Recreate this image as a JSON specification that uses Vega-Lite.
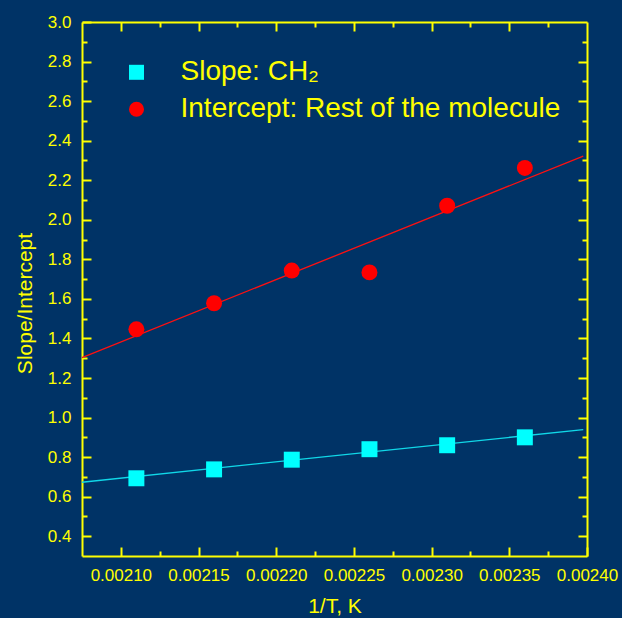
{
  "$schema": "https://vega.github.io/schema/vega-lite/v6.json",
  "width": 505,
  "height": 534,
  "autosize": "none",
  "padding": {"left": 82, "top": 22, "right": 35, "bottom": 62},
  "background": "#003366",
  "config": {
    "view": {"stroke": null},
    "font": "Liberation Sans",
    "axis": {
      "grid": false,
      "domainColor": "#FFFF00",
      "domainWidth": 2,
      "tickColor": "#FFFF00",
      "tickWidth": 2,
      "labelColor": "#FFFF00",
      "labelFont": "Liberation Sans",
      "labelFontSize": 17,
      "titleColor": "#FFFF00",
      "titleFont": "Liberation Sans",
      "titleFontSize": 21,
      "titleFontWeight": "normal",
      "labelFlush": false,
      "labelOverlap": false
    }
  },
  "datasets": {
    "points": [
      {"invT": 0.00211, "value": 0.693, "series": "Slope: CH₂"},
      {"invT": 0.00216, "value": 0.738, "series": "Slope: CH₂"},
      {"invT": 0.00221, "value": 0.787, "series": "Slope: CH₂"},
      {"invT": 0.00226, "value": 0.84, "series": "Slope: CH₂"},
      {"invT": 0.00231, "value": 0.86, "series": "Slope: CH₂"},
      {"invT": 0.00236, "value": 0.9, "series": "Slope: CH₂"},
      {"invT": 0.00211, "value": 1.446, "series": "Intercept: Rest of the molecule"},
      {"invT": 0.00216, "value": 1.578, "series": "Intercept: Rest of the molecule"},
      {"invT": 0.00221, "value": 1.743, "series": "Intercept: Rest of the molecule"},
      {"invT": 0.00226, "value": 1.734, "series": "Intercept: Rest of the molecule"},
      {"invT": 0.00231, "value": 2.071, "series": "Intercept: Rest of the molecule"},
      {"invT": 0.00236, "value": 2.262, "series": "Intercept: Rest of the molecule"}
    ],
    "fits": [
      {"invT": 0.002075, "value": 0.673, "series": "Slope fit"},
      {"invT": 0.0023976, "value": 0.939, "series": "Slope fit"},
      {"invT": 0.002075, "value": 1.303, "series": "Intercept fit"},
      {"invT": 0.0023976, "value": 2.322, "series": "Intercept fit"}
    ]
  },
  "layer": [
    {
      "data": {"name": "fits"},
      "mark": {"type": "line", "strokeWidth": 1.3},
      "encoding": {
        "x": {
          "field": "invT", "type": "quantitative",
          "scale": {"domain": [0.002075, 0.0024], "nice": false, "zero": false},
          "axis": {
            "orient": "bottom",
            "title": "1/T, K",
            "titleFontSize": 21,
            "titleFont": "Liberation Sans",
            "titleFontWeight": "normal",
            "titleColor": "#FFFF00",
            "labelFontSize": 17,
            "labelFont": "Liberation Sans",
            "labelColor": "#FFFF00",
            "values": [0.0021, 0.002125, 0.00215, 0.002175, 0.0022, 0.002225, 0.00225, 0.002275, 0.0023, 0.002325, 0.00235, 0.002375, 0.0024],
            "labelExpr": "round(datum.value*40000)%2==0 ? format(datum.value, '.5f') : ''",
            "tickSize": -9,
            "tickDash": {"condition": {"test": "round(datum.value*40000)%2!=0", "value": [5, 40]}, "value": [20, 0]},
            "labelPadding": 20,
            "titlePadding": 12
          }
        },
        "y": {
          "field": "value", "type": "quantitative",
          "scale": {"domain": [0.3, 3.0], "nice": false, "zero": false},
          "axis": {
            "orient": "left",
            "title": "Slope/Intercept",
            "titleFontSize": 21,
            "titleFont": "Liberation Sans",
            "titleFontWeight": "normal",
            "titleColor": "#FFFF00",
            "titleY": 281,
            "labelFontSize": 17,
            "labelFont": "Liberation Sans",
            "labelColor": "#FFFF00",
            "values": [0.4, 0.5, 0.6, 0.7, 0.8, 0.9, 1.0, 1.1, 1.2, 1.3, 1.4, 1.5, 1.6, 1.7, 1.8, 1.9, 2.0, 2.1, 2.2, 2.3, 2.4, 2.5, 2.6, 2.7, 2.8, 2.9, 3.0],
            "labelExpr": "round(datum.value*10)%2==0 ? format(datum.value, '.1f') : ''",
            "tickSize": -9,
            "tickDash": {"condition": {"test": "round(datum.value*10)%2!=0", "value": [5, 40]}, "value": [20, 0]},
            "labelPadding": 20,
            "titlePadding": 12
          }
        },
        "detail": {"field": "series"},
        "stroke": {
          "field": "series", "type": "nominal",
          "scale": {"domain": ["Slope fit", "Intercept fit"], "range": ["#10D8E8", "#FF1010"]},
          "legend": null
        }
      }
    },
    {
      "data": {"name": "points"},
      "mark": {"type": "point", "filled": true, "opacity": 1, "size": 255},
      "encoding": {
        "x": {"field": "invT", "type": "quantitative", "axis": null, "scale": {"domain": [0.002075, 0.0024], "nice": false, "zero": false}},
        "y": {"field": "value", "type": "quantitative", "axis": null, "scale": {"domain": [0.3, 3.0], "nice": false, "zero": false}},
        "color": {
          "field": "series", "type": "nominal",
          "scale": {"domain": ["Slope: CH₂", "Intercept: Rest of the molecule"], "range": ["#00FFFF", "#FF0000"]},
          "legend": {
            "orient": "none", "legendX": 40.5, "legendY": 36.3, "title": null,
            "labelFontSize": 28, "labelColor": "#FFFF00", "labelFont": "Liberation Sans",
            "labelOffset": 30, "rowPadding": 9, "padding": 0, "symbolSize": 225,
            "labelLimit": 0, "symbolStrokeWidth": 0
          }
        },
        "shape": {
          "field": "series", "type": "nominal",
          "scale": {"domain": ["Slope: CH₂", "Intercept: Rest of the molecule"], "range": ["square", "circle"]},
          "legend": {
            "orient": "none", "legendX": 40.5, "legendY": 36.3, "title": null,
            "labelFontSize": 28, "labelColor": "#FFFF00", "labelFont": "Liberation Sans",
            "labelOffset": 30, "rowPadding": 9, "padding": 0, "symbolSize": 225,
            "labelLimit": 0, "symbolStrokeWidth": 0
          }
        }
      }
    },
    {
      "data": {"name": "points"},
      "mark": {"type": "point", "opacity": 0},
      "encoding": {
        "x": {
          "field": "invT", "type": "quantitative",
          "scale": {"domain": [0.002075, 0.0024], "nice": false, "zero": false},
          "axis": {
            "orient": "top",
            "title": null,
            "labels": false,
            "values": [0.0021, 0.002125, 0.00215, 0.002175, 0.0022, 0.002225, 0.00225, 0.002275, 0.0023, 0.002325, 0.00235, 0.002375],
            "tickSize": -9,
            "tickDash": {"condition": {"test": "round(datum.value*40000)%2!=0", "value": [5, 40]}, "value": [20, 0]}
          }
        },
        "y": {
          "field": "value", "type": "quantitative",
          "scale": {"domain": [0.3, 3.0], "nice": false, "zero": false},
          "axis": {
            "orient": "right",
            "title": null,
            "labels": false,
            "values": [0.4, 0.5, 0.6, 0.7, 0.8, 0.9, 1.0, 1.1, 1.2, 1.3, 1.4, 1.5, 1.6, 1.7, 1.8, 1.9, 2.0, 2.1, 2.2, 2.3, 2.4, 2.5, 2.6, 2.7, 2.8, 2.9],
            "tickSize": -9,
            "tickDash": {"condition": {"test": "round(datum.value*10)%2!=0", "value": [5, 40]}, "value": [20, 0]}
          }
        }
      }
    }
  ],
  "resolve": {"axis": {"x": "independent", "y": "independent"}}
}
